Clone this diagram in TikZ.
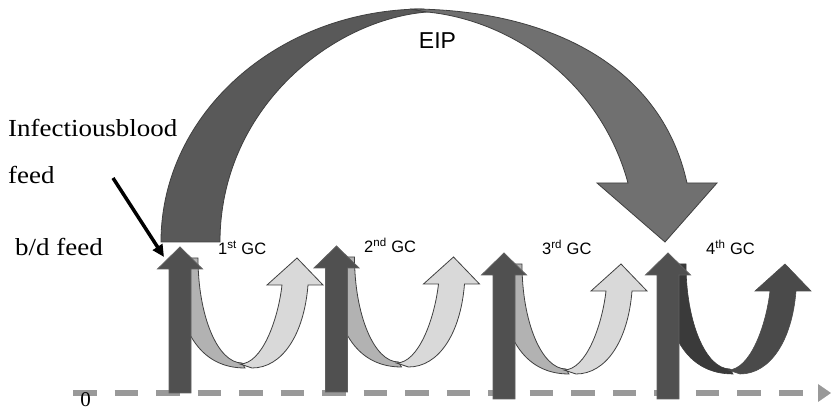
\documentclass[tikz,border=0pt]{standalone}
\usepackage{fontspec}
\setmainfont{Liberation Serif}
\newfontfamily\lsans{Liberation Sans}
\newfontfamily\lserifw[FakeStretch=1.1]{Liberation Serif}
\usetikzlibrary{arrows.meta}
\definecolor{vertc}{RGB}{80,80,80}
\definecolor{vertd}{RGB}{96,96,96}
\definecolor{backc}{RGB}{178,178,178}
\definecolor{frontc}{RGB}{217,217,217}
\definecolor{edgec}{RGB}{64,64,64}
\definecolor{darkback}{RGB}{58,58,58}
\definecolor{darkfront}{RGB}{74,74,74}
\definecolor{eipdark}{RGB}{89,89,89}
\definecolor{eiplight}{RGB}{112,112,112}
\definecolor{axisc}{RGB}{153,153,153}
\tikzset{
  lbl/.style={inner sep=0pt, anchor=base west, font=\lserifw\fontsize{24.5}{28}\selectfont},
  gclbl/.style={inner sep=0pt, anchor=base west, font=\lsans\fontsize{16.5}{19}\selectfont},
  vertarrow/.style={fill=vertc, draw=vertd, line width=0.8pt},
  backband/.style={fill=backc, draw=edgec, line width=0.8pt},
  frontband/.style={fill=frontc, draw=edgec, line width=0.8pt},
  dbackband/.style={fill=darkback, draw=darkback, line width=0.6pt},
  dfrontband/.style={fill=darkfront, draw=darkfront, line width=0.6pt},
  eipd/.style={fill=eipdark, draw=edgec, line width=0.8pt},
  eipl/.style={fill=eiplight, draw=edgec, line width=0.8pt},
  axisline/.style={draw=axisc, line width=6pt, dash pattern=on 23.5pt off 18.03pt},
  blkarrow/.style={draw=black, line width=3.5pt, -{Triangle[length=12pt,width=11pt]}},
}
\newcommand\gcunit[4]{%
  \begin{scope}[shift={(#1,#2)}]
    \path[#3] (175,258) .. controls (175,330) and (200,368) .. (245,368) -- (242,363)
      .. controls (217.7,363) and (198,316) .. (198,258) -- cycle;
    \path[#4] (240,364) .. controls (262,364) and (278,320) .. (282,285) -- (267,285)
      -- (297,258) -- (323,285) -- (308,285) .. controls (304,335) and (282,368) .. (252,368) -- cycle;
    \path[vertarrow] (169,393) -- (169,269) -- (157.5,269) -- (180,247) -- (202.5,269)
      -- (191,269) -- (191,393) -- cycle;
  \end{scope}}
\begin{document}
\begin{tikzpicture}[x=1pt,y=-1pt]
\useasboundingbox (0,0) rectangle (831,411);
% axis
\coordinate (axs) at (73,393);
\coordinate (axe) at (803,393);
\draw[axisline] (axs) -- (axe);
\fill[axisc] (818,384) -- (831,393) -- (818,402) -- cycle;
\node[inner sep=0pt, anchor=base, font=\fontsize{21}{23}\selectfont] (zero) at (85.5,406.5) {0};
% EIP curved arrow
\path[eipd] (161,242) .. controls (161,113) and (279,9) .. (424,9) -- (427,12)
  .. controls (330,20) and (220,110) .. (220,242) -- cycle;
\path[eipl] (410,9) .. controls (540,9) and (660,60) .. (687,183) -- (717,183)
  -- (665,242) -- (597,183) -- (628,183) .. controls (600,80) and (510,20) .. (427,12) -- cycle;
\node[inner sep=0pt, anchor=base, font=\lsans\fontsize{23}{26}\selectfont] (eip) at (437.5,49) {EIP};
% gonotrophic cycles
\gcunit{0}{0}{backband}{frontband}
\gcunit{156.5}{-1}{backband}{frontband}
\gcunit{324}{6}{backband}{frontband}
\gcunit{488}{6}{dbackband}{dfrontband}
\node[gclbl] (gc1) at (218,254.5) {1\textsuperscript{st} GC};
\node[gclbl] (gc2) at (364,253) {2\textsuperscript{nd} GC};
\node[gclbl] (gc3) at (542,254.5) {3\textsuperscript{rd} GC};
\node[gclbl] (gc4) at (706,254.5) {4\textsuperscript{th} GC};
% left labels
\node[lbl] (inf) at (8,136.7) {Infectiousblood};
\node[lbl] (feed) at (8,183.3) {feed};
\node[lbl] (bd) at (15,256) {b/d feed};
\coordinate (bfs) at (113,178);
\coordinate (bft) at (164,257);
\draw[blkarrow] (bfs) -- (bft);
\end{tikzpicture}
\end{document}
